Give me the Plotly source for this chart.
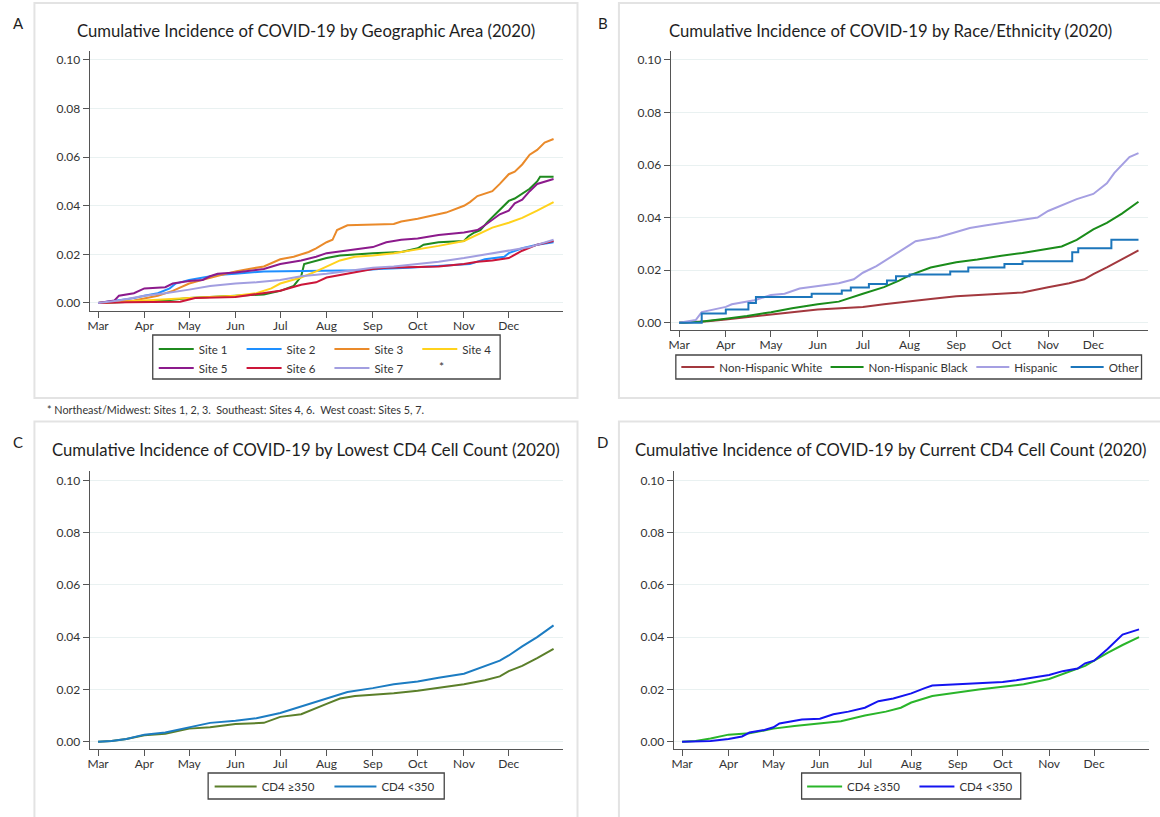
import plotly.graph_objects as go

# ---------------- DATA ----------------
YEAR = "2020-"

# Panel A: geographic area
site_names = ["Site 1", "Site 2", "Site 3", "Site 4", "Site 5", "Site 6", "Site 7"]

site1_dates = ["03-01", "03-20", "04-15", "05-01", "06-01", "06-20", "07-01", "07-10", "07-15", "07-17",
               "08-01", "08-10", "09-01", "09-20", "10-01", "10-05", "10-15", "11-01", "11-04", "11-08",
               "11-12", "11-17", "11-22", "11-27", "12-01", "12-05", "12-10", "12-15", "12-20", "12-22", "12-31"]
site1_vals = [0, 0.0005, 0.001, 0.002, 0.003, 0.0035, 0.005, 0.007, 0.011, 0.016,
              0.0185, 0.0195, 0.0205, 0.021, 0.0225, 0.024, 0.025, 0.0255, 0.0275, 0.029,
              0.030, 0.0335, 0.0365, 0.0395, 0.042, 0.043, 0.045, 0.047, 0.050, 0.052, 0.052]

site2_dates = ["03-01", "03-15", "03-25", "04-01", "04-10", "04-18", "04-22", "05-01", "05-10", "05-20",
               "06-01", "06-10", "06-20", "08-25", "09-05", "09-25", "10-10", "11-05", "11-10", "11-15",
               "11-28", "12-01", "12-10", "12-20", "12-31"]
site2_vals = [0, 0.001, 0.002, 0.003, 0.004, 0.006, 0.008, 0.0095, 0.0105, 0.0115,
              0.012, 0.0125, 0.013, 0.0135, 0.014, 0.0145, 0.015, 0.016, 0.017, 0.018,
              0.019, 0.0205, 0.0225, 0.024, 0.025]

site3_dates = ["03-01", "03-10", "03-25", "04-01", "04-10", "04-20", "05-01", "05-10", "05-20", "06-01",
               "06-10", "06-20", "07-01", "07-10", "07-20", "07-25", "08-01", "08-05", "08-08", "08-15",
               "09-15", "09-20", "10-01", "10-10", "10-20", "11-01", "11-05", "11-10", "11-20", "11-25",
               "12-01", "12-05", "12-10", "12-15", "12-20", "12-25", "12-31"]
site3_vals = [0, 0.0005, 0.001, 0.0018, 0.003, 0.005, 0.008, 0.0095, 0.011, 0.013,
              0.014, 0.015, 0.018, 0.019, 0.021, 0.0225, 0.025, 0.026, 0.030, 0.032,
              0.0325, 0.0335, 0.0347, 0.036, 0.0372, 0.040, 0.0415, 0.044, 0.046, 0.049,
              0.053, 0.054, 0.057, 0.061, 0.063, 0.066, 0.0675]

site4_dates = ["03-01", "03-20", "04-01", "05-01", "05-20", "06-01", "06-15", "06-25", "07-01", "07-15",
               "07-25", "08-01", "08-10", "08-20", "09-01", "09-15", "10-01", "10-15", "11-01", "11-10",
               "11-20", "12-01", "12-10", "12-20", "12-31"]
site4_vals = [0, 0.0005, 0.001, 0.002, 0.0025, 0.003, 0.004, 0.006, 0.008, 0.0105,
              0.013, 0.015, 0.0175, 0.019, 0.0195, 0.0205, 0.022, 0.0235, 0.0255, 0.028,
              0.031, 0.033, 0.035, 0.038, 0.0415]

site5_dates = ["03-01", "03-12", "03-15", "03-25", "04-01", "04-15", "04-20", "05-01", "05-10", "05-15",
               "05-20", "06-01", "06-20", "07-01", "07-15", "07-25", "08-01", "08-15", "09-01", "09-10",
               "09-20", "10-01", "10-15", "11-01", "11-10", "11-15", "11-25", "12-01", "12-05", "12-10",
               "12-15", "12-20", "12-31"]
site5_vals = [0, 0.001, 0.003, 0.004, 0.006, 0.0065, 0.008, 0.009, 0.0095, 0.011,
              0.012, 0.0125, 0.014, 0.016, 0.0175, 0.019, 0.0205, 0.0215, 0.023, 0.025,
              0.026, 0.0265, 0.028, 0.029, 0.030, 0.032, 0.0365, 0.038, 0.041, 0.0425,
              0.046, 0.049, 0.051]

site6_dates = ["03-01", "03-20", "04-25", "05-01", "05-05", "06-01", "06-20", "07-01", "07-15", "07-25",
               "08-01", "08-15", "09-01", "09-10", "10-15", "11-01", "11-10", "11-20", "12-01", "12-10",
               "12-20", "12-31"]
site6_vals = [0, 0.0003, 0.0005, 0.0015, 0.002, 0.0025, 0.004, 0.005, 0.0075, 0.0085,
              0.0105, 0.012, 0.014, 0.0145, 0.015, 0.016, 0.017, 0.0175, 0.0185, 0.0215,
              0.024, 0.0255]

site7_dates = ["03-01", "03-15", "04-01", "04-15", "05-01", "05-15", "06-01", "06-15", "07-01", "07-15",
               "08-01", "08-15", "09-01", "09-15", "10-01", "10-15", "11-01", "11-15", "12-01", "12-15",
               "12-31"]
site7_vals = [0, 0.001, 0.003, 0.004, 0.0055, 0.007, 0.008, 0.0085, 0.0095, 0.011,
              0.012, 0.013, 0.0145, 0.015, 0.016, 0.017, 0.0185, 0.020, 0.0215, 0.023,
              0.026]

# Panel B: race / ethnicity
race_names = ["Non-Hispanic White", "Non-Hispanic Black", "Hispanic", "Other"]

nhw_dates = ["03-01", "03-20", "04-01", "04-15", "05-01", "05-15", "06-01", "06-15", "07-01", "07-15",
             "08-01", "08-15", "09-01", "09-15", "10-01", "10-15", "11-01", "11-15", "11-25", "12-01",
             "12-10", "12-20", "12-31"]
nhw_vals = [0, 0.0005, 0.0012, 0.002, 0.003, 0.004, 0.005, 0.0055, 0.006, 0.007,
            0.0082, 0.009, 0.010, 0.0105, 0.011, 0.0115, 0.0135, 0.015, 0.0165, 0.0185,
            0.021, 0.024, 0.0275]

nhb_dates = ["03-01", "03-15", "04-01", "04-15", "05-01", "05-15", "06-01", "06-15", "07-01", "07-15",
             "07-25", "08-01", "08-15", "09-01", "09-15", "10-01", "10-15", "11-01", "11-10", "11-20",
             "12-01", "12-10", "12-20", "12-31"]
nhb_vals = [0, 0.0003, 0.0015, 0.0025, 0.004, 0.0055, 0.007, 0.008, 0.011, 0.0135,
            0.016, 0.018, 0.021, 0.023, 0.024, 0.0255, 0.0265, 0.028, 0.029, 0.0315,
            0.0355, 0.038, 0.0415, 0.046]

hisp_dates = ["03-01", "03-12", "03-16", "03-25", "04-01", "04-05", "04-20", "05-01", "05-10", "05-20",
              "06-01", "06-15", "06-25", "07-01", "07-10", "07-20", "07-25", "08-01", "08-05", "08-20",
              "09-01", "09-10", "09-20", "10-01", "10-15", "10-25", "11-01", "11-10", "11-20", "12-01",
              "12-10", "12-15", "12-20", "12-25", "12-31"]
hisp_vals = [0, 0.001, 0.004, 0.005, 0.006, 0.007, 0.0085, 0.0105, 0.011, 0.013,
             0.014, 0.015, 0.0165, 0.019, 0.0215, 0.025, 0.027, 0.0295, 0.031, 0.0325,
             0.0345, 0.036, 0.037, 0.038, 0.039, 0.040, 0.0425, 0.0445, 0.047, 0.049,
             0.053, 0.057, 0.060, 0.063, 0.0645]

oth_dates = ["03-01", "03-16", "04-01", "04-16", "04-21", "05-28", "06-17", "06-23", "07-05", "07-17",
             "07-23", "08-01", "08-28", "09-09", "10-03", "10-15", "11-17", "11-21", "12-13", "12-31"]
oth_vals = [0, 0.0035, 0.005, 0.0075, 0.0098, 0.011, 0.0122, 0.0134, 0.0147, 0.016,
            0.0177, 0.0183, 0.0195, 0.021, 0.0223, 0.0234, 0.0268, 0.0283, 0.0316, 0.0316]

# Panel C: lowest CD4
cd4_names = ["CD4 \u2265350", "CD4 <350"]

c_hi_dates = ["03-01", "03-10", "03-20", "04-01", "04-15", "05-01", "05-15", "06-01", "06-20", "07-01",
              "07-15", "07-25", "08-01", "08-10", "08-20", "09-01", "09-15", "10-01", "10-15", "11-01",
              "11-15", "11-25", "12-01", "12-10", "12-20", "12-31"]
c_hi_vals = [0, 0.0003, 0.001, 0.0025, 0.003, 0.005, 0.0055, 0.0068, 0.0072, 0.0095,
             0.0105, 0.013, 0.0145, 0.0165, 0.0175, 0.018, 0.0185, 0.0195, 0.0205, 0.022,
             0.0235, 0.025, 0.027, 0.029, 0.032, 0.0355]

c_lo_dates = ["03-01", "03-10", "03-20", "04-01", "04-15", "05-01", "05-15", "06-01", "06-15", "07-01",
              "07-15", "07-25", "08-01", "08-15", "09-01", "09-15", "10-01", "10-15", "11-01", "11-15",
              "11-25", "12-01", "12-10", "12-20", "12-31"]
c_lo_vals = [0, 0.0003, 0.001, 0.0027, 0.0035, 0.0055, 0.0072, 0.008, 0.009, 0.011,
             0.0135, 0.0155, 0.0165, 0.019, 0.0205, 0.022, 0.023, 0.0245, 0.026, 0.029,
             0.031, 0.033, 0.0365, 0.040, 0.0445]

# Panel D: current CD4
d_hi_dates = ["03-01", "03-10", "03-20", "04-01", "04-15", "05-01", "05-15", "06-01", "06-15", "07-01",
              "07-15", "07-25", "08-01", "08-15", "09-01", "09-15", "10-01", "10-15", "11-01", "11-15",
              "11-25", "12-01", "12-10", "12-20", "12-31"]
d_hi_vals = [0, 0.0003, 0.0012, 0.0027, 0.0032, 0.005, 0.006, 0.007, 0.0078, 0.010,
             0.0115, 0.013, 0.015, 0.0175, 0.019, 0.020, 0.021, 0.022, 0.024, 0.027,
             0.029, 0.031, 0.034, 0.037, 0.040]

d_lo_dates = ["03-01", "03-20", "04-01", "04-10", "04-15", "04-25", "05-01", "05-05", "05-20", "06-01",
              "06-10", "06-20", "07-01", "07-10", "07-20", "08-01", "08-10", "08-15", "09-01", "10-01",
              "10-10", "11-01", "11-10", "11-20", "11-25", "12-01", "12-10", "12-20", "12-31"]
d_lo_vals = [0, 0.0003, 0.001, 0.002, 0.0035, 0.0045, 0.0055, 0.007, 0.0085, 0.0088,
             0.0105, 0.0115, 0.013, 0.0155, 0.0165, 0.0185, 0.0205, 0.0215, 0.022, 0.0228,
             0.0235, 0.0255, 0.027, 0.028, 0.030, 0.031, 0.0355, 0.041, 0.043]

month_ticks = ["03-01", "04-01", "05-01", "06-01", "07-01", "08-01", "09-01", "10-01", "11-01", "12-01"]
month_labels = ["Mar", "Apr", "May", "Jun", "Jul", "Aug", "Sep", "Oct", "Nov", "Dec"]
y_ticks = [0.0, 0.02, 0.04, 0.06, 0.08, 0.10]
y_labels = ["0.00", "0.02", "0.04", "0.06", "0.08", "0.10"]

titles = ["Cumulative Incidence of COVID-19 by Geographic Area (2020)",
          "Cumulative Incidence of COVID-19 by Race/Ethnicity (2020)",
          "Cumulative Incidence of COVID-19 by Lowest CD4 Cell Count (2020)",
          "Cumulative Incidence of COVID-19 by Current CD4 Cell Count (2020)"]
panel_letters = ["A", "B", "C", "D"]
footnote = "* Northeast/Midwest: Sites 1, 2, 3.  Southeast: Sites 4, 6.  West coast: Sites 5, 7."

# ---------------- STYLE ----------------
W, H = 1160, 817
FONT = "Lato"


def px(x):
    return x / W


def py(y):
    return 1 - y / H


def d(lst):
    return [YEAR + s for s in lst]


fig = go.Figure()

series = [
    # (axis idx, name, dates, vals, color, line shape)
    (1, site_names[0], site1_dates, site1_vals, "#1f8a1f", "linear"),
    (1, site_names[1], site2_dates, site2_vals, "#1e8fff", "linear"),
    (1, site_names[2], site3_dates, site3_vals, "#ea8a2a", "linear"),
    (1, site_names[3], site4_dates, site4_vals, "#ffd21c", "linear"),
    (1, site_names[4], site5_dates, site5_vals, "#8c1a8c", "linear"),
    (1, site_names[5], site6_dates, site6_vals, "#cc1639", "linear"),
    (1, site_names[6], site7_dates, site7_vals, "#a29ee0", "linear"),
    (2, race_names[0], nhw_dates, nhw_vals, "#a3383e", "linear"),
    (2, race_names[1], nhb_dates, nhb_vals, "#1a8c1a", "linear"),
    (2, race_names[2], hisp_dates, hisp_vals, "#a59fe2", "linear"),
    (2, race_names[3], oth_dates, oth_vals, "#1c76bb", "hv"),
    (3, cd4_names[0], c_hi_dates, c_hi_vals, "#5b7f2a", "linear"),
    (3, cd4_names[1], c_lo_dates, c_lo_vals, "#1c7cc2", "linear"),
    (4, cd4_names[0], d_hi_dates, d_hi_vals, "#2ab52a", "linear"),
    (4, cd4_names[1], d_lo_dates, d_lo_vals, "#1414f0", "linear"),
]

# one legend slot per entry: (x px of legend left, y px of centre, symbol width)
legend_slots = [
    (152, 349, 35), (240, 349, 35), (328, 349, 35), (416, 349, 35),
    (152, 368, 35), (240, 368, 35), (328, 368, 35),
    (675.5, 367, 33), (825, 367, 33), (971, 367, 33), (1065.5, 367, 33),
    (208, 786.5, 42), (328, 786.5, 42),
    (801.5, 786.5, 35), (914, 786.5, 35),
]

layout = dict(
    width=W, height=H, margin=dict(l=0, r=0, t=0, b=0),
    paper_bgcolor="white", plot_bgcolor="white",
    font=dict(family=FONT, size=11, color="#333333"),
    showlegend=True,
)

for i, (ax, name, dt, vals, col, shp) in enumerate(series):
    sfx = "" if ax == 1 else str(ax)
    leg = "legend" if i == 0 else "legend%d" % (i + 1)
    fig.add_trace(go.Scatter(
        x=d(dt), y=vals, name=name, mode="lines",
        line=dict(color=col, width=2, shape=shp),
        xaxis="x" + sfx, yaxis="y" + sfx, legend=leg,
    ))
    lx, ly, iw = legend_slots[i]
    layout[leg] = dict(orientation="h", xanchor="left", yanchor="middle",
                       x=px(lx), y=py(ly), itemwidth=iw,
                       bgcolor="rgba(0,0,0,0)", borderwidth=0,
                       font=dict(family=FONT, size=11.5, color="#333333"))

# plot-area boxes (pixels): left, right, top, bottom
areas = [
    (88, 562, 51, 311),
    (670, 1148, 51, 330),
    (88, 562, 471, 749),
    (673, 1148.5, 471, 749),
]
yranges = [[-0.0033, 0.1037], [-0.0028, 0.1034], [-0.0028, 0.1036], [-0.0028, 0.1036]]
xrange_ = ["2020-02-24 12:00", "2021-01-06 08:00"]

for i, (l, r, t, b) in enumerate(areas):
    sfx = "" if i == 0 else str(i + 1)
    layout["xaxis" + sfx] = dict(
        domain=[px(l), px(r)], anchor="y" + sfx, range=xrange_, type="date",
        tickvals=d(month_ticks), ticktext=month_labels,
        showline=True, linecolor="#555555", linewidth=1.3,
        ticks="outside", ticklen=6, tickwidth=1, tickcolor="#555555",
        ticklabelstandoff=-3,
        showgrid=False, zeroline=False,
        tickfont=dict(family=FONT, size=12, color="#333333"),
        fixedrange=True,
    )
    layout["yaxis" + sfx] = dict(
        domain=[py(b), py(t)], anchor="x" + sfx, range=yranges[i],
        tickvals=y_ticks, ticktext=y_labels,
        showline=True, linecolor="#555555", linewidth=1.3,
        ticks="outside", ticklen=6, tickwidth=1, tickcolor="#555555",
        showgrid=True, gridcolor="#e9f1f1", gridwidth=1, zeroline=False,
        tickfont=dict(family=FONT, size=12, color="#333333"),
        fixedrange=True,
    )

shapes = []
# panel frames
frames = [(32.5, 576.5, 3, 398), (618, 1165, 3, 398), (32.5, 576.5, 421.5, 822), (618, 1165, 421.5, 822)]
for (l, r, t, b) in frames:
    shapes.append(dict(type="rect", xref="paper", yref="paper", x0=px(l), x1=px(r), y0=py(b), y1=py(t),
                       line=dict(color="#e3e3e3", width=2), layer="below"))
# legend boxes
lboxes = [(151, 499, 335, 379), (675, 1141.5, 355, 379), (206.5, 443, 773, 799), (801, 1020.5, 773, 799)]
for (l, r, t, b) in lboxes:
    shapes.append(dict(type="rect", xref="paper", yref="paper", x0=px(l), x1=px(r), y0=py(b), y1=py(t),
                       line=dict(color="#444444", width=1.3)))
layout["shapes"] = shapes

ann = []
title_pos = [(305, 31), (890.5, 31), (304.5, 450), (890.5, 450)]
for txt, (x, y) in zip(titles, title_pos):
    ann.append(dict(text=txt, x=px(x), y=py(y), xref="paper", yref="paper", xanchor="center",
                    yanchor="middle", showarrow=False, font=dict(family=FONT, size=16.7, color="#1e1e1e")))
letter_pos = [(16.5, 22.5), (602, 22.5), (16.5, 441.5), (602, 441.5)]
for txt, (x, y) in zip(panel_letters, letter_pos):
    ann.append(dict(text=txt, x=px(x), y=py(y), xref="paper", yref="paper", xanchor="center",
                    yanchor="middle", showarrow=False, font=dict(family=FONT, size=15, color="#1e1e1e")))
ann.append(dict(text=footnote, x=px(43), y=py(409), xref="paper", yref="paper", xanchor="left",
                yanchor="middle", showarrow=False, font=dict(family=FONT, size=10.8, color="#333333")))
ann.append(dict(text="*", x=px(440), y=py(366), xref="paper", yref="paper", xanchor="center",
                yanchor="middle", showarrow=False, font=dict(family=FONT, size=12, color="#333333")))
layout["annotations"] = ann

fig.update_layout(layout)
fig.write_html("out.html", config={"displayModeBar": False},
               post_script="document.body.style.margin='0px';document.body.style.padding='0px';")
